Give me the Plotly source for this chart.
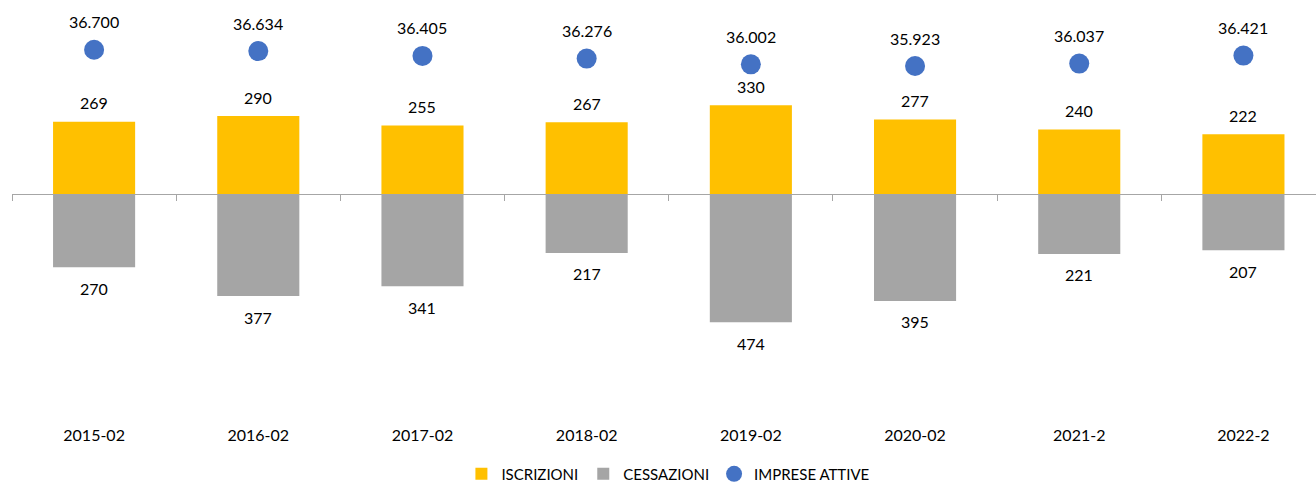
import plotly.graph_objects as go

categories = ["2015-02", "2016-02", "2017-02", "2018-02", "2019-02", "2020-02", "2021-2", "2022-2"]
iscrizioni = [269, 290, 255, 267, 330, 277, 240, 222]
cessazioni = [270, 377, 341, 217, 474, 395, 221, 207]
imprese_attive = [36700, 36634, 36405, 36276, 36002, 35923, 36037, 36421]

YELLOW = "#FFC000"
GREY = "#A5A5A5"
BLUE = "#4472C4"
AXIS = "#A6A6A6"
FONT = "Lato"


def it_num(v):
    return f"{v:,}".replace(",", ".")


fig = go.Figure()
fig.add_trace(go.Bar(name="ISCRIZIONI", x=categories, y=iscrizioni,
                     marker=dict(color=YELLOW, line=dict(width=0)), hoverinfo="skip"))
fig.add_trace(go.Bar(name="CESSAZIONI", x=categories, y=[-v for v in cessazioni],
                     marker=dict(color=GREY, line=dict(width=0)), hoverinfo="skip"))
fig.add_trace(go.Scatter(name="IMPRESE ATTIVE", x=categories, y=imprese_attive,
                         xaxis="x2", yaxis="y2", mode="markers",
                         marker=dict(color=BLUE, size=20), hoverinfo="skip"))

annotations = []
for c, v in zip(categories, iscrizioni):
    annotations.append(dict(x=c, y=v, xref="x", yref="y", text=str(v), showarrow=False,
                            yshift=19, yanchor="middle",
                            font=dict(family=FONT, size=16, color="#000000")))
for c, v in zip(categories, cessazioni):
    annotations.append(dict(x=c, y=-v, xref="x", yref="y", text=str(v), showarrow=False,
                            yshift=-21, yanchor="middle",
                            font=dict(family=FONT, size=16, color="#000000")))
for c, v in zip(categories, imprese_attive):
    annotations.append(dict(x=c, y=v, xref="x2", yref="y2", text=it_num(v), showarrow=False,
                            yshift=28, yanchor="middle",
                            font=dict(family=FONT, size=16, color="#000000")))

plot_h = 424
zero_px = 194.3
bar_scale = 0.27
y_top = zero_px / bar_scale
y_bot = -(plot_h - zero_px) / bar_scale

dot_scale = 0.021
ref_val, ref_px = 36700, 49.7
y2_top = ref_val + ref_px / dot_scale
y2_bot = ref_val - (plot_h - ref_px) / dot_scale

x_range = [-0.5, 7.442]

fig.update_layout(
    width=1316, height=484,
    margin=dict(l=12, r=0, t=0, b=60, autoexpand=False),
    paper_bgcolor="white", plot_bgcolor="white",
    barmode="relative", bargap=0.5,
    font=dict(family=FONT, size=16, color="#000000"),
    showlegend=True,
    legend=dict(orientation="h", x=0.503, xanchor="center", y=-0.118, yanchor="middle",
                font=dict(family=FONT, size=15, color="#000000"),
                itemwidth=30, traceorder="normal"),
    xaxis=dict(type="category", range=x_range, showline=False, ticks="",
               showgrid=False, zeroline=False,
               tickfont=dict(family=FONT, size=16, color="#000000")),
    xaxis2=dict(type="category", range=x_range, overlaying="x", anchor="free",
                position=(plot_h - zero_px) / plot_h, side="bottom",
                showline=True, linecolor=AXIS, linewidth=1,
                ticks="outside", tickson="boundaries", ticklen=6, tickcolor=AXIS,
                showticklabels=False, showgrid=False, zeroline=False),
    yaxis=dict(range=[y_bot, y_top], visible=False, showgrid=False, zeroline=False),
    yaxis2=dict(range=[y2_bot, y2_top], overlaying="y", anchor="x", side="right",
                visible=False, showgrid=False, zeroline=False),
    annotations=annotations,
)

fig.write_html("out.html", config={"displayModeBar": False},
               post_script="document.body.style.margin='0';")
